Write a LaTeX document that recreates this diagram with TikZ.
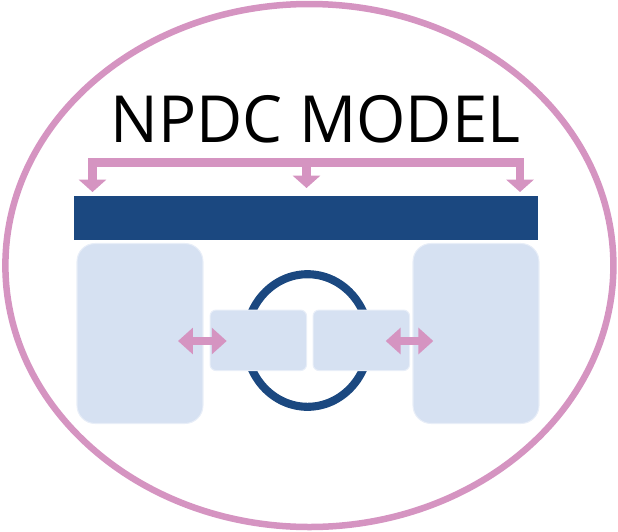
\documentclass[tikz,border=0pt]{standalone}
\usepackage{fontspec}
\setmainfont{Open Sans}
\usepackage{tikz}
\usetikzlibrary{arrows.meta,positioning}
\definecolor{ringpink}{HTML}{D594C1}
\definecolor{deepblue}{HTML}{1B4880}
\definecolor{paleblue}{HTML}{D6E1F2}
\definecolor{paleedge}{HTML}{E8EEF8}
\tikzset{
  outerring/.style={draw=ringpink, line width=3.7pt},
  topbar/.style={fill=deepblue, draw=none, inner sep=0pt,
    minimum width=9.28cm, minimum height=0.88cm},
  bigbox/.style={fill=paleblue, draw=paleedge, line width=0.6pt,
    rounded corners=0.36cm, inner sep=0pt,
    minimum width=2.52cm, minimum height=3.6cm},
  smallbox/.style={fill=paleblue, draw=paleedge, line width=0.6pt,
    rounded corners=0.12cm, inner sep=0pt,
    minimum width=1.93cm, minimum height=1.21cm},
  hubring/.style={draw=deepblue, line width=4.6pt},
  feedtip/.tip={Triangle[width=15.3pt,length=7pt]},
  feedline/.style={draw=ringpink, line width=4.6pt, line join=miter},
  swaptip/.tip={Triangle[width=14.7pt,length=8.5pt]},
  swapline/.style={draw=ringpink, line width=4.4pt},
  titletext/.style={font=\fontsize{37}{40}\selectfont, inner sep=0pt}
}
\begin{document}
\begin{tikzpicture}[x=0.02cm,y=-0.02cm]
  \useasboundingbox (0,0) rectangle (618,531);
  \draw[outerring] (309.4,265.5) ellipse [x radius=304, y radius=261.5];
  \node[titletext,anchor=base] (title) at (315.5,142.5) {\scalebox{0.975}[1]{NPDC MODEL}};
  \node[topbar] (bar) at (306,218) {};
  \node[bigbox] (leftunit) at (140,333.5) {};
  \node[bigbox] (rightunit) at (476,333.5) {};
  \draw[hubring] (307.5,340.5) ellipse [x radius=61.7, y radius=66.3];
  \node[smallbox] (leftcore) at (258.3,340.3) {};
  \node[smallbox] (rightcore) at (361.3,340.3) {};
  \coordinate (bl) at (92.5,162.5);
  \coordinate (bm) at (306.5,162.5);
  \coordinate (br) at (520,162.5);
  \draw[feedline, -feedtip] (bm) -- (bm |- 0,188);
  \draw[feedline, feedtip-feedtip] (bl |- 0,192) -- (bl) -- (br) -- (br |- 0,192);
  \coordinate (la) at (178,341);
  \coordinate (lb) at (226.7,341);
  \coordinate (ra) at (385.7,341);
  \coordinate (rb) at (433.3,341);
  \draw[swapline, swaptip-swaptip] (la) -- (lb);
  \draw[swapline, swaptip-swaptip] (ra) -- (rb);
\end{tikzpicture}
\end{document}
